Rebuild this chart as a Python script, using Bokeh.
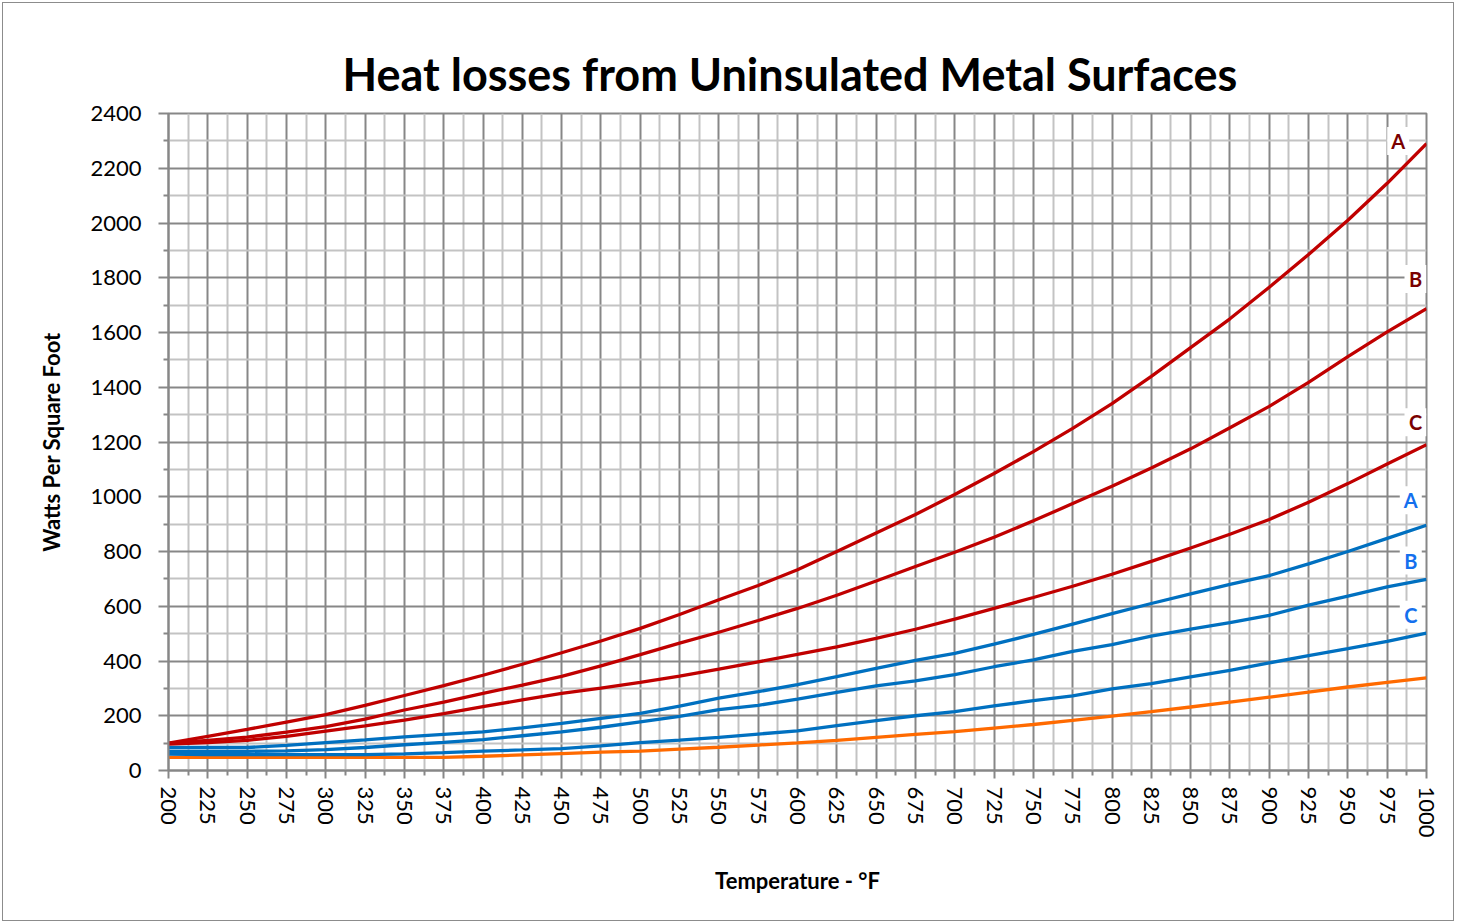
from bokeh.plotting import figure
from bokeh.models import FixedTicker, ColumnDataSource, Range1d
from bokeh.core.properties import value
from bokeh.embed import file_html
from bokeh.resources import INLINE

# ---- data ----
temps = list(range(200, 1001, 25))

red_a = [100, 125, 150, 177, 204, 238, 274, 310, 348, 388, 430, 473, 519, 570, 624, 676, 733,
         800, 868, 935, 1008, 1085, 1165, 1250, 1340, 1440, 1545, 1650, 1765, 1885, 2010, 2145, 2290]
red_b = [100, 110, 122, 140, 160, 188, 221, 250, 282, 312, 344, 382, 423, 465, 505, 548, 592,
         640, 692, 745, 797, 852, 912, 975, 1038, 1105, 1175, 1252, 1330, 1418, 1512, 1602, 1687]
red_c = [96, 102, 110, 125, 144, 163, 184, 208, 233, 258, 282, 301, 322, 345, 370, 397, 424,
         452, 483, 516, 553, 592, 632, 673, 717, 764, 813, 863, 917, 980, 1048, 1120, 1190]
blue_a = [84, 84, 84, 92, 102, 112, 123, 132, 141, 156, 172, 190, 209, 235, 264, 288, 314,
          343, 373, 402, 428, 462, 497, 535, 573, 610, 645, 680, 712, 755, 800, 848, 896]
blue_b = [70, 70, 70, 72, 76, 84, 94, 103, 113, 127, 141, 158, 178, 198, 222, 238, 261,
          285, 309, 327, 350, 379, 404, 435, 460, 491, 516, 540, 567, 604, 637, 671, 698]
blue_c = [60, 58, 58, 58, 58, 58, 61, 65, 71, 75, 80, 90, 102, 111, 121, 133, 145,
          164, 182, 200, 215, 236, 255, 273, 298, 317, 342, 366, 393, 420, 445, 472, 502]
orange = [48, 48, 48, 48, 48, 48, 48, 48, 52, 57, 62, 67, 71, 78, 85, 93, 101,
          110, 121, 132, 142, 155, 168, 183, 199, 215, 232, 250, 268, 286, 305, 322, 338]

label_text = ["A", "B", "C", "A", "B", "C"]
label_colors = ["#7a0000", "#7a0000", "#7a0000", "#1470ee", "#1470ee", "#1470ee"]
label_x = [982, 993, 993, 990, 990, 990]
label_y = [2300, 1795, 1272, 987, 767, 569]

y_ticks = list(range(0, 2401, 200))
y_minor = list(range(100, 2400, 200))
x_minor = [t + 12.5 for t in temps[:-1]]

FONT = "Lato"
MAJOR = "#878787"
MINOR = "#c3c3c3"

p = figure(width=1452, height=919,
           x_range=Range1d(200, 1000), y_range=Range1d(0, 2400),
           output_backend="svg", toolbar_location=None,
           min_border_left=165, min_border_right=29,
           min_border_top=110, min_border_bottom=152,
           title="Heat losses from Uninsulated Metal Surfaces")
p.styles = {"border": "1px solid #8c8c8c", "margin-left": "2px", "margin-top": "2px"}

p.title.align = "left"
p.title.offset = 174
p.title.text_font = FONT
p.title.text_font_size = "45px"
p.title.text_font_style = "bold"
p.title.text_color = "#000000"
p.title.standoff = 26

p.xaxis.ticker = FixedTicker(ticks=temps, minor_ticks=x_minor)
p.yaxis.ticker = FixedTicker(ticks=y_ticks, minor_ticks=y_minor)

for ax in (p.xaxis[0], p.yaxis[0]):
    ax.axis_line_color = MAJOR
    ax.axis_line_width = 2
    ax.major_tick_line_color = MAJOR
    ax.major_tick_line_width = 2
    ax.minor_tick_line_color = MAJOR
    ax.minor_tick_line_width = 2
    ax.major_tick_in = 0
    ax.minor_tick_in = 0
    ax.major_label_text_font = FONT
    ax.major_label_text_font_size = "22px"
    ax.major_label_text_color = "#000000"
    ax.axis_label_text_font = FONT
    ax.axis_label_text_font_size = "22px"
    ax.axis_label_text_font_style = "bold"
    ax.axis_label_text_color = "#000000"

p.xaxis.major_tick_out = 8
p.xaxis.minor_tick_out = 5
p.yaxis.major_tick_out = 10
p.yaxis.minor_tick_out = 5
p.xaxis.major_label_orientation = "vertical"
p.xaxis.major_label_standoff = 8
p.yaxis.major_label_standoff = 17
p.xaxis.axis_label = "Temperature - °F"
p.yaxis.axis_label = "Watts Per Square Foot"
p.xaxis.axis_label_standoff = 26
p.yaxis.axis_label_standoff = 22

for g in (p.xgrid[0], p.ygrid[0]):
    g.grid_line_color = MAJOR
    g.grid_line_width = 2
    g.minor_grid_line_color = MINOR
    g.minor_grid_line_width = 2

p.outline_line_color = MAJOR
p.outline_line_width = 2
p.background_fill_color = "white"
p.border_fill_color = "white"

LW = 3.3
p.line(temps, orange, line_color="#ff6a00", line_width=LW)
p.line(temps, blue_c, line_color="#0070c0", line_width=LW)
p.line(temps, blue_b, line_color="#0070c0", line_width=LW)
p.line(temps, blue_a, line_color="#0070c0", line_width=LW)
p.line(temps, red_c, line_color="#c00000", line_width=LW)
p.line(temps, red_b, line_color="#c00000", line_width=LW)
p.line(temps, red_a, line_color="#c00000", line_width=LW)

lsrc = ColumnDataSource(dict(x=label_x, y=label_y, text=label_text, color=label_colors))
p.rect(x="x", y="y", width=22, height=28, width_units="screen", height_units="screen",
       source=lsrc, fill_color="white", line_color=None)
p.text(x="x", y="y", text="text", source=lsrc, text_color="color",
       text_font=value(FONT), text_font_size="20px", text_font_style="bold",
       text_align="center", text_baseline="middle")

open("out.html", "w").write(file_html(p, INLINE))
